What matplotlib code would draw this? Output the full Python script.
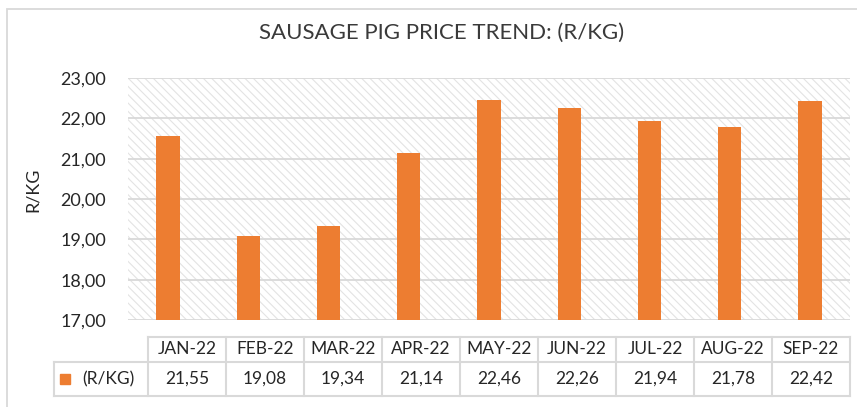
import matplotlib
matplotlib.use('Agg')
import matplotlib.pyplot as plt
from matplotlib.patches import Rectangle
from matplotlib.lines import Line2D
import numpy as np

months = ['JAN-22', 'FEB-22', 'MAR-22', 'APR-22', 'MAY-22', 'JUN-22', 'JUL-22', 'AUG-22', 'SEP-22']
price = [21.55, 19.08, 19.34, 21.14, 22.46, 22.26, 21.94, 21.78, 22.42]
yticks = [17, 18, 19, 20, 21, 22, 23]
series_name = '(R/KG)'
title = 'SAUSAGE PIG PRICE TREND: (R/KG)'

W, H = 857, 407
orange = '#ED7D31'
grid_c = '#d9d9d9'
txt_c = '#262626'

plt.rcParams['font.family'] = ['Lato', 'DejaVu Sans']
plt.rcParams['hatch.color'] = '#e3e3e3'
plt.rcParams['hatch.linewidth'] = 0.8

fig = plt.figure(figsize=(W / 100, H / 100), dpi=100)

def fx(px):
    return px / W

def fy(py):
    return 1 - py / H

# outer chart border
fig.add_artist(Rectangle((fx(7), fy(420)), fx(870) - fx(7), fy(9) - fy(420),
                         transform=fig.transFigure, fill=False, ec=grid_c, lw=1.3))

ax = fig.add_axes([fx(128), fy(320), fx(850) - fx(128), fy(78) - fy(320)])
ax.add_patch(Rectangle((0, 0), 1, 1, transform=ax.transAxes, facecolor='white',
                       hatch='\\\\\\\\', edgecolor='#e3e3e3', lw=0, zorder=0))
x = np.arange(len(months))
ax.bar(x, np.array(price) - 17, bottom=17, width=0.29, color=orange, zorder=3)
ax.set_xlim(-0.5, len(months) - 0.5)
ax.set_ylim(17, 23)
ax.set_yticks(yticks)
ax.set_yticklabels(['{:.2f}'.format(v).replace('.', ',') for v in yticks],
                   fontsize=13, color=txt_c)
ax.tick_params(axis='y', length=0, pad=16)
ax.set_xticks([])
for v in yticks:
    ax.axhline(v, color=grid_c, lw=1.3, zorder=1)
for s in ax.spines.values():
    s.set_visible(False)
ax.patch.set_visible(False)

fig.text(fx(33), fy(190), 'R/KG', rotation=90, ha='center', va='center',
         fontsize=13, color=txt_c)
fig.text(fx(442), fy(33), title, ha='center', va='center', fontsize=16,
         color='#3a3a3a', fontweight='normal')

# data table
col_l, col_w = 148, 78
top, mid, bot = 337, 362, 396
lab_l = 54
lines = [
    ((col_l, col_l + col_w * len(months)), (top, top)),
    ((lab_l, col_l + col_w * len(months)), (mid, mid)),
    ((lab_l, col_l + col_w * len(months)), (bot, bot)),
    ((lab_l, lab_l), (mid, bot)),
]
for i in range(len(months) + 1):
    lines.append(((col_l + i * col_w, col_l + i * col_w), (top, bot)))
for (xs, ys) in lines:
    fig.add_artist(Line2D([fx(xs[0]), fx(xs[1])], [fy(ys[0]), fy(ys[1])],
                          transform=fig.transFigure, color=grid_c, lw=1.5))

for i, (m, p) in enumerate(zip(months, price)):
    cx = col_l + col_w * (i + 0.5)
    fig.text(fx(cx), fy((top + mid) / 2), m, ha='center', va='center',
             fontsize=12.5, color=txt_c)
    fig.text(fx(cx), fy((mid + bot) / 2), '{:.2f}'.format(p).replace('.', ','),
             ha='center', va='center', fontsize=12.5, color=txt_c)

fig.add_artist(Rectangle((fx(60), fy(384)), fx(10), fy(374) - fy(384),
                         transform=fig.transFigure, color=orange))
fig.text(fx(82), fy((mid + bot) / 2), series_name, ha='left', va='center',
         fontsize=12.5, color=txt_c)

fig.savefig('out.png', dpi=100)
